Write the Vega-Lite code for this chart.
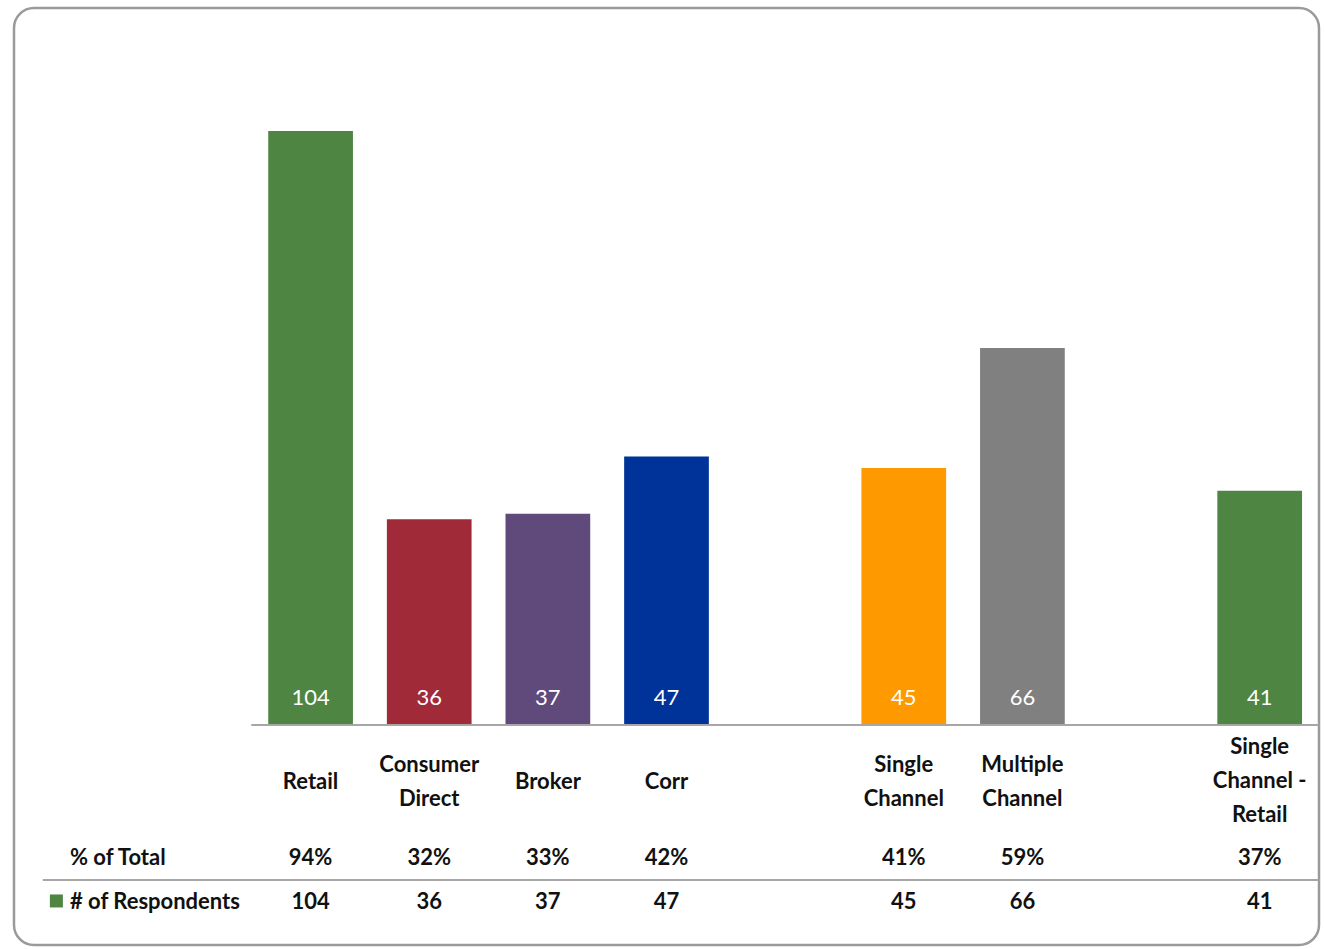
{
  "$schema": "https://vega.github.io/schema/vega-lite/v6.json",
  "width": 1305,
  "height": 937,
  "autosize": {"type": "none"},
  "padding": {"left": 14, "top": 8, "right": 6, "bottom": 4},
  "background": "white",
  "config": {
    "view": {"stroke": "#9a9a9a", "strokeWidth": 2.5, "cornerRadius": 20},
    "text": {"font": "Lato", "fontSize": 22, "color": "#111111"}
  },
  "data": {
    "values": [
      {"category": "Retail", "label": "Retail", "value": 104, "pct": "94%"},
      {"category": "Consumer Direct", "label": "Consumer\nDirect", "value": 36, "pct": "32%"},
      {"category": "Broker", "label": "Broker", "value": 37, "pct": "33%"},
      {"category": "Corr", "label": "Corr", "value": 47, "pct": "42%"},
      {"category": "Single Channel", "label": "Single\nChannel", "value": 45, "pct": "41%"},
      {"category": "Multiple Channel", "label": "Multiple\nChannel", "value": 66, "pct": "59%"},
      {"category": "Single Channel - Retail", "label": "Single\nChannel -\nRetail", "value": 41, "pct": "37%"}
    ]
  },
  "encoding": {
    "x": {
      "field": "category",
      "type": "nominal",
      "axis": null,
      "sort": null,
      "scale": {
        "domain": ["_a", "_b", "Retail", "Consumer Direct", "Broker", "Corr", "_g1", "Single Channel", "Multiple Channel", "_g2", "Single Channel - Retail"],
        "paddingInner": 0.286,
        "paddingOuter": 0.143
      }
    }
  },
  "layer": [
    {
      "mark": {"type": "bar"},
      "encoding": {
        "y": {"field": "value", "type": "quantitative", "axis": null, "scale": {"domain": [-38.52, 125.53], "nice": false, "zero": false}},
        "color": {
          "field": "category",
          "type": "nominal",
          "legend": null,
          "scale": {
            "domain": ["Retail", "Consumer Direct", "Broker", "Corr", "Single Channel", "Multiple Channel", "Single Channel - Retail"],
            "range": ["#4E8542", "#A12A38", "#604A7B", "#003399", "#FF9900", "#808080", "#4E8542"]
          }
        }
      }
    },
    {
      "mark": {"type": "text", "color": "white", "fontSize": 22, "baseline": "middle"},
      "encoding": {
        "y": {"datum": 4.7, "type": "quantitative"},
        "text": {"field": "value", "type": "quantitative"}
      }
    },
    {
      "transform": [{"filter": {"field": "category", "oneOf": ["Retail", "Broker", "Corr"]}}],
      "mark": {"type": "text", "baseline": "middle", "fontWeight": "bold"},
      "encoding": {
        "y": {"datum": -9.95, "type": "quantitative"},
        "text": {"field": "label", "type": "nominal"}
      }
    },
    {
      "transform": [{"filter": {"field": "category", "oneOf": ["Consumer Direct", "Single Channel", "Multiple Channel"]}}],
      "mark": {"type": "text", "baseline": "middle", "lineBreak": "\n", "lineHeight": 34, "fontWeight": "bold"},
      "encoding": {
        "y": {"datum": -6.98, "type": "quantitative"},
        "text": {"field": "label", "type": "nominal"}
      }
    },
    {
      "transform": [{"filter": {"field": "category", "oneOf": ["Single Channel - Retail"]}}],
      "mark": {"type": "text", "baseline": "middle", "lineBreak": "\n", "lineHeight": 34, "fontWeight": "bold"},
      "encoding": {
        "y": {"datum": -3.85, "type": "quantitative"},
        "text": {"field": "label", "type": "nominal"}
      }
    },
    {
      "mark": {"type": "text", "baseline": "middle", "fontWeight": "bold"},
      "encoding": {
        "y": {"datum": -23.3, "type": "quantitative"},
        "text": {"field": "pct", "type": "nominal"}
      }
    },
    {
      "mark": {"type": "text", "baseline": "middle", "fontWeight": "bold"},
      "encoding": {
        "y": {"datum": -31.0, "type": "quantitative"},
        "text": {"field": "value", "type": "quantitative"}
      }
    },
    {
      "data": {"values": [{}]},
      "mark": {"type": "rule", "color": "#a6a6a6", "strokeWidth": 2},
      "encoding": {
        "x": {"datum": "Retail", "bandPosition": -0.2},
        "x2": {"datum": "Single Channel - Retail", "bandPosition": 1.2},
        "y": {"datum": 0, "type": "quantitative"}
      }
    },
    {
      "data": {"values": [{}]},
      "mark": {"type": "rule", "color": "#a6a6a6", "strokeWidth": 2},
      "encoding": {
        "x": {"datum": "_a", "bandPosition": 0.14},
        "x2": {"datum": "Single Channel - Retail", "bandPosition": 1.2},
        "y": {"datum": -27.14, "type": "quantitative"}
      }
    },
    {
      "data": {"values": [{"rowlabel": "% of Total", "row": -23.3}, {"rowlabel": "# of Respondents", "row": -31.0}]},
      "mark": {"type": "text", "align": "left", "baseline": "middle", "dx": 39, "fontWeight": "bold"},
      "encoding": {
        "x": {"datum": "_a", "bandPosition": 0},
        "y": {"field": "row", "type": "quantitative"},
        "text": {"field": "rowlabel", "type": "nominal"}
      }
    },
    {
      "data": {"values": [{}]},
      "mark": {"type": "point", "shape": "square", "filled": true, "opacity": 1, "size": 169, "color": "#4E8542", "dx": 25},
      "encoding": {
        "x": {"datum": "_a", "bandPosition": 0.3},
        "y": {"datum": -30.81, "type": "quantitative"}
      }
    }
  ]
}
